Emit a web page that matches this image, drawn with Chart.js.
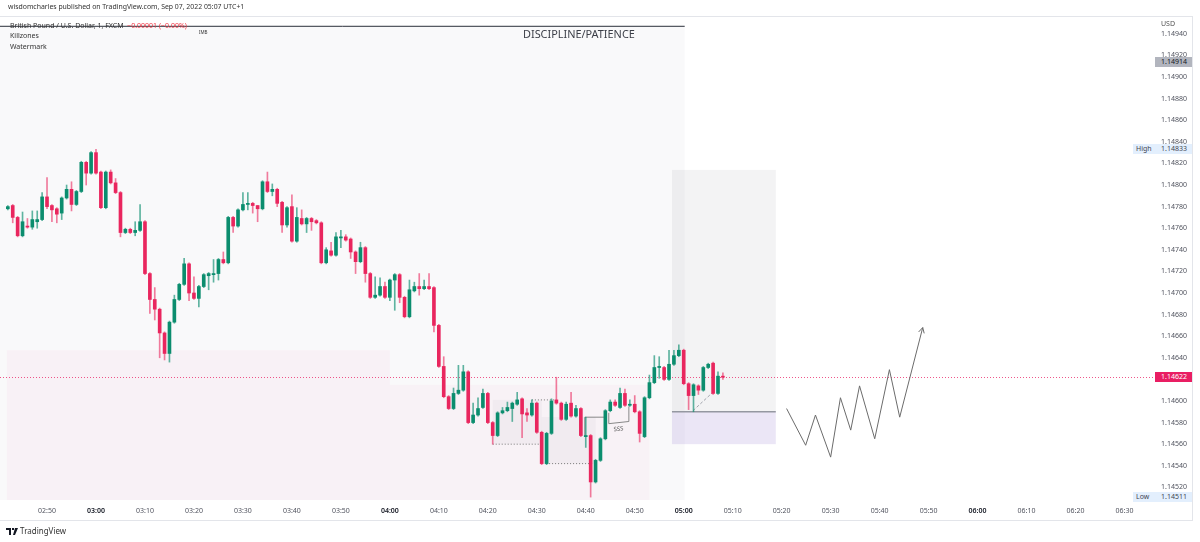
<!DOCTYPE html>
<html><head><meta charset="utf-8">
<script src="https://cdn.jsdelivr.net/npm/chart.js@4/dist/chart.umd.min.js"></script>
<style>
html,body{margin:0;padding:0;background:#fff;width:1200px;height:542px;overflow:hidden;font-family:"Noto Sans",sans-serif;color:#131722;}
#wrap{position:relative;width:1200px;height:542px;}
#c{position:absolute;left:0;top:0;}
.t{position:absolute;white-space:nowrap;line-height:1;}
#frame{position:absolute;left:-1px;top:16px;width:1194px;height:505px;border:1px solid #e3e5ea;box-sizing:border-box;pointer-events:none;}
.badge{position:absolute;height:10px;line-height:10px;font-size:7px;white-space:nowrap;}
</style></head>
<body><div id="wrap">
<canvas id="c" width="1200" height="542"></canvas>
<div id="frame"></div>
<div class="t" style="left:8px;top:4px;font-size:6.9px;color:#333;">wisdomcharles published on TradingView.com, Sep 07, 2022 05:07 UTC+1</div>
<div class="t" style="left:10px;top:22px;font-size:7px;color:#333;">British Pound / U.S. Dollar, 1, FXCM&nbsp;&nbsp;<span style="color:#f23645">−0.00001 (−0.00%)</span></div>
<div class="t" style="left:10px;top:32px;font-size:7px;color:#333;">Killzones</div>
<div class="t" style="left:10px;top:43px;font-size:7px;color:#333;">Watermark</div>
<div class="t" style="left:199px;top:30px;font-size:4.5px;color:#333;">IMB</div>
<div class="t" style="left:523px;top:29px;font-size:10.9px;color:#3b3e47;">DISCIPLINE/PATIENCE</div>
<div class="t" style="left:1161px;top:20px;font-size:7px;color:#555;">USD</div>
<div class="t" style="left:6px;top:527px;font-size:8px;color:#333;"><svg width="12" height="7" viewBox="0 0 12 7" style="vertical-align:-1px"><path d="M0 0h5v7H3V2H0z M6 0h2v2H6z M9 0h3l-3 7H7z" fill="#131722"/></svg> TradingView</div>
<div id="badges"></div>
</div>
<script>
// ---- data ----
const times = ["02:42","02:43","02:44","02:45","02:46","02:47","02:48","02:49","02:50","02:51","02:52","02:53","02:54","02:55","02:56","02:57","02:58","02:59",
"03:00","03:01","03:02","03:03","03:04","03:05","03:06","03:07","03:08","03:09","03:10","03:11","03:12","03:13","03:14","03:15","03:16","03:17","03:18","03:19",
"03:20","03:21","03:22","03:23","03:24","03:25","03:26","03:27","03:28","03:29","03:30","03:31","03:32","03:33","03:34","03:35","03:36","03:37","03:38","03:39",
"03:40","03:41","03:42","03:43","03:44","03:45","03:46","03:47","03:48","03:49","03:50","03:51","03:52","03:53","03:54","03:55","03:56","03:57","03:58","03:59",
"04:00","04:01","04:02","04:03","04:04","04:05","04:06","04:07","04:08","04:09","04:10","04:11","04:12","04:13","04:14","04:15","04:16","04:17","04:18","04:19",
"04:20","04:21","04:22","04:23","04:24","04:25","04:26","04:27","04:28","04:29","04:30","04:31","04:32","04:33","04:34","04:35","04:36","04:37","04:38","04:39",
"04:40","04:41","04:42","04:43","04:44","04:45","04:46","04:47","04:48","04:49","04:50","04:51","04:52","04:53","04:54","04:55","04:56","04:57","04:58","04:59",
"05:00","05:01","05:02","05:03","05:04","05:05","05:06","05:07","05:08"];
const open = [1.14778,1.14781,1.14770,1.14753,1.14762,1.14761,1.14766,1.14768,1.14789,1.14781,
1.14778,1.14774,1.14788,1.14796,1.14782,1.14794,1.14821,1.14811,1.14830,1.14812,
1.14779,1.14812,1.14802,1.14793,1.14756,1.14759,1.14756,1.14758,1.14766,1.14718,
1.14694,1.14685,1.14663,1.14644,1.14673,1.14694,1.14708,1.14727,1.14700,1.14695,
1.14706,1.14716,1.14717,1.14718,1.14731,1.14728,1.14770,1.14762,1.14777,1.14782,
1.14783,1.14781,1.14778,1.14803,1.14794,1.14796,1.14784,1.14763,1.14780,1.14748,
1.14769,1.14764,1.14769,1.14767,1.14765,1.14728,1.14739,1.14735,1.14751,1.14752,
1.14750,1.14738,1.14729,1.14742,1.14718,1.14696,1.14698,1.14706,1.14696,1.14712,
1.14717,1.14696,1.14678,1.14702,1.14706,1.14704,1.14706,1.14705,1.14670,1.14632,
1.14604,1.14593,1.14607,1.14610,1.14627,1.14580,1.14587,1.14594,1.14607,1.14580,
1.14568,1.14589,1.14591,1.14593,1.14597,1.14602,1.14589,1.14587,1.14598,1.14571,
1.14542,1.14570,1.14601,1.14598,1.14583,1.14598,1.14586,1.14593,1.14567,1.14568,
1.14525,1.14545,1.14565,1.14591,1.14599,1.14594,1.14607,1.14596,1.14597,1.14590,
1.14567,1.14603,1.14617,1.14631,1.14631,1.14620,1.14634,1.14642,1.14647,1.14616,
1.14605,1.14614,1.14610,1.14631,1.14635,1.14607,1.14623];
const high = [1.14781,1.14782,1.14771,1.14775,1.14769,1.14776,1.14776,1.14793,1.14807,1.14782,
1.14779,1.14789,1.14800,1.14803,1.14795,1.14822,1.14822,1.14831,1.14833,1.14813,
1.14813,1.14814,1.14806,1.14794,1.14760,1.14760,1.14766,1.14782,1.14767,1.14719,
1.14705,1.14686,1.14664,1.14674,1.14698,1.14709,1.14732,1.14728,1.14715,1.14707,
1.14718,1.14719,1.14731,1.14732,1.14738,1.14771,1.14771,1.14778,1.14793,1.14793,
1.14784,1.14781,1.14804,1.14812,1.14801,1.14797,1.14785,1.14780,1.14791,1.14779,
1.14777,1.14770,1.14770,1.14768,1.14766,1.14742,1.14747,1.14756,1.14758,1.14754,
1.14751,1.14739,1.14747,1.14743,1.14719,1.14715,1.14714,1.14710,1.14713,1.14718,
1.14718,1.14697,1.14712,1.14710,1.14718,1.14712,1.14718,1.14706,1.14671,1.14641,
1.14605,1.14612,1.14633,1.14633,1.14628,1.14598,1.14603,1.14611,1.14608,1.14581,
1.14590,1.14594,1.14599,1.14599,1.14608,1.14603,1.14593,1.14601,1.14599,1.14572,
1.14571,1.14602,1.14622,1.14599,1.14599,1.14608,1.14596,1.14594,1.14585,1.14569,
1.14546,1.14566,1.14592,1.14601,1.14601,1.14612,1.14611,1.14601,1.14605,1.14591,
1.14604,1.14624,1.14642,1.14641,1.14632,1.14647,1.14647,1.14652,1.14648,1.14617,
1.14616,1.14615,1.14632,1.14635,1.14636,1.14627,1.14626];
const low = [1.14777,1.14765,1.14752,1.14752,1.14760,1.14759,1.14760,1.14767,1.14778,1.14766,
1.14765,1.14768,1.14787,1.14776,1.14781,1.14793,1.14800,1.14810,1.14810,1.14778,
1.14778,1.14801,1.14792,1.14752,1.14755,1.14755,1.14753,1.14757,1.14717,1.14681,
1.14675,1.14640,1.14638,1.14636,1.14672,1.14693,1.14707,1.14693,1.14694,1.14687,
1.14705,1.14703,1.14710,1.14712,1.14727,1.14727,1.14756,1.14761,1.14776,1.14777,
1.14774,1.14766,1.14777,1.14793,1.14790,1.14780,1.14756,1.14761,1.14747,1.14747,
1.14763,1.14756,1.14758,1.14764,1.14727,1.14727,1.14734,1.14734,1.14742,1.14748,
1.14732,1.14718,1.14728,1.14710,1.14695,1.14695,1.14697,1.14695,1.14693,1.14684,
1.14691,1.14677,1.14677,1.14701,1.14698,1.14703,1.14703,1.14664,1.14631,1.14603,
1.14592,1.14592,1.14606,1.14609,1.14579,1.14579,1.14586,1.14593,1.14579,1.14560,
1.14567,1.14588,1.14590,1.14581,1.14596,1.14566,1.14581,1.14586,1.14570,1.14541,
1.14541,1.14569,1.14597,1.14582,1.14582,1.14585,1.14585,1.14567,1.14557,1.14511,
1.14524,1.14544,1.14564,1.14590,1.14595,1.14593,1.14595,1.14595,1.14589,1.14562,
1.14566,1.14602,1.14616,1.14621,1.14619,1.14619,1.14633,1.14641,1.14615,1.14592,
1.14590,1.14606,1.14609,1.14630,1.14606,1.14606,1.14620];
const close = [1.14780,1.14770,1.14753,1.14766,1.14761,1.14768,1.14768,1.14789,1.14780,1.14777,
1.14773,1.14788,1.14796,1.14782,1.14794,1.14821,1.14811,1.14830,1.14811,1.14779,
1.14812,1.14802,1.14793,1.14756,1.14759,1.14756,1.14758,1.14766,1.14718,1.14694,
1.14685,1.14663,1.14644,1.14673,1.14694,1.14708,1.14727,1.14700,1.14695,1.14706,
1.14717,1.14718,1.14718,1.14731,1.14728,1.14770,1.14762,1.14777,1.14782,1.14783,
1.14781,1.14778,1.14803,1.14794,1.14796,1.14783,1.14763,1.14779,1.14748,1.14770,
1.14764,1.14769,1.14766,1.14765,1.14728,1.14740,1.14735,1.14752,1.14752,1.14749,
1.14738,1.14729,1.14742,1.14718,1.14696,1.14698,1.14706,1.14696,1.14712,1.14717,
1.14696,1.14678,1.14703,1.14706,1.14704,1.14706,1.14704,1.14670,1.14632,1.14604,
1.14593,1.14607,1.14610,1.14627,1.14580,1.14587,1.14593,1.14607,1.14580,1.14568,
1.14589,1.14591,1.14594,1.14598,1.14601,1.14588,1.14587,1.14598,1.14571,1.14542,
1.14570,1.14600,1.14598,1.14583,1.14597,1.14586,1.14593,1.14568,1.14568,1.14525,
1.14545,1.14565,1.14591,1.14599,1.14596,1.14607,1.14596,1.14597,1.14590,1.14570,
1.14603,1.14617,1.14631,1.14632,1.14620,1.14634,1.14642,1.14647,1.14616,1.14605,
1.14615,1.14610,1.14631,1.14634,1.14607,1.14623,1.14622];
// projected zig-zag path (minutes of day, price)
const pathX = [321.0,324.9,326.9,330.0,332.0,334.1,335.9,339.0,342.0,344.1,348.8];
const pathY = [1.14593,1.14559,1.14587,1.14548,1.14603,1.14573,1.14614,1.14565,1.14629,1.14585,1.14668];
// axis settings
const xRange = [160.4, 391.53];
const yRange = [1.145083, 1.149556];
const priceStep = 0.0002, timeStep = 10;
const lastPrice = 1.14622, highPrice = 1.14833, lowPrice = 1.14511, markPrice = 1.14914;
// zones: [t0, t1, p0, p1, colour]  (null = axis bound)
const zones = [
  [null, 300.2, null, 1.14947, 'rgba(120,123,134,0.045)'],
  [161.8, 240, null, 1.14647, 'rgba(233,30,140,0.035)'],
  [240, 293, null, 1.14615, 'rgba(233,30,140,0.03)'],
  [261, 271, 1.14560, 1.14601, 'rgba(120,123,134,0.06)'],
  [271, 282, 1.14542, 1.14585, 'rgba(120,123,134,0.06)'],
  [297.6, 318.8, 1.14590, 1.14814, 'rgba(120,123,134,0.09)'],
  [297.6, 318.8, 1.14560, 1.14590, 'rgba(103,58,183,0.13)']
];
// line drawings: [[t,p],...], colour, dash, width
const drawings = [
  [[[null,1.14947],[300.2,1.14947]], '#2a2e39', [], 1],
  [[[261,1.14560],[271,1.14560]], '#777', [1,2], 1],
  [[[269,1.14601],[273.7,1.14601]], '#777', [1,2], 1],
  [[[271.9,1.14542],[282.3,1.14542]], '#777', [1,2], 1],
  [[[279.8,1.14567],[279.8,1.14585],[283.9,1.14585]], '#888', [], 1],
  [[[284.7,1.14589],[284.7,1.14579],[288.8,1.14581],[288.8,1.14595]], '#888', [], 1],
  [[[297.6,1.14590],[318.8,1.14590]], '#9598a1', [], 1.5],
  [[[301.9,1.14591],[306.4,1.14610]], '#a0a3ab', [3,2], 1]
];
const labels = [[286.7, 1.14574, 'SSS']];

// ---- helpers ----
const toMin = s => { const p = s.split(':').map(Number); return p[0]*60 + p[1]; };
const fmt = v => { const h = Math.floor(v/60), m = Math.round(v - h*60); return String(h).padStart(2,'0') + ':' + String(m).padStart(2,'0'); };
const xs = times.map(toMin);
const UP = '#0b8d6e', DN = '#e9265e';
const bodyCol = close.map((c,i) => c >= open[i] ? UP : DN);
const wickCol = close.map((c,i) => c >= open[i] ? 'rgba(11,141,110,0.65)' : 'rgba(233,38,94,0.6)');
const FAM = '"Noto Sans", sans-serif';

const overlay = {
  id: 'overlay',
  beforeDatasetsDraw(chart) {
    const {ctx, chartArea: a, scales: {x, y}} = chart;
    const px = t => x.getPixelForValue(t === null ? x.min : t);
    ctx.save();
    ctx.beginPath(); ctx.rect(a.left, a.top, a.right - a.left, a.bottom - a.top); ctx.clip();
    zones.forEach(z => {
      const x0 = px(z[0]), x1 = z[1] === null ? a.right : px(z[1]);
      const y0 = z[2] === null ? a.bottom : y.getPixelForValue(z[2]);
      const y1 = z[3] === null ? a.top : y.getPixelForValue(z[3]);
      ctx.fillStyle = z[4];
      ctx.fillRect(Math.min(x0,x1), Math.min(y0,y1), Math.abs(x1-x0), Math.abs(y1-y0));
    });
    drawings.forEach(d => {
      ctx.beginPath();
      d[0].forEach((pt, i) => {
        const X = px(pt[0]), Y = y.getPixelForValue(pt[1]);
        if (i === 0) ctx.moveTo(X, Y); else ctx.lineTo(X, Y);
      });
      ctx.strokeStyle = d[1]; ctx.setLineDash(d[2]); ctx.lineWidth = d[3]; ctx.stroke();
    });
    ctx.setLineDash([]);
    ctx.restore();
    ctx.save();
    const yl = Math.round(y.getPixelForValue(lastPrice)) + 0.5;
    ctx.beginPath(); ctx.moveTo(a.left, yl); ctx.lineTo(y.left + 23, yl);
    ctx.strokeStyle = 'rgba(233,30,99,0.75)'; ctx.setLineDash([1,2]); ctx.lineWidth = 1; ctx.stroke();
    ctx.restore();
    ctx.save();
    ctx.fillStyle = '#555'; ctx.font = '6px ' + FAM; ctx.textAlign = 'center'; ctx.textBaseline = 'middle';
    labels.forEach(l => {
      ctx.save(); ctx.translate(px(l[0]), y.getPixelForValue(l[1])); ctx.rotate(-0.08); ctx.fillText(l[2], 0, 0); ctx.restore();
    });
    ctx.restore();
  },
  afterDatasetsDraw(chart) {
    const {ctx, scales: {x, y}} = chart;
    const n = pathX.length;
    const X1 = x.getPixelForValue(pathX[n-1]), Y1 = y.getPixelForValue(pathY[n-1]);
    const X0 = x.getPixelForValue(pathX[n-2]), Y0 = y.getPixelForValue(pathY[n-2]);
    const ang = Math.atan2(Y1 - Y0, X1 - X0), L = 6;
    ctx.save(); ctx.strokeStyle = '#6b6b6b'; ctx.lineWidth = 1;
    ctx.beginPath();
    ctx.moveTo(X1 - L*Math.cos(ang - 0.5), Y1 - L*Math.sin(ang - 0.5));
    ctx.lineTo(X1, Y1);
    ctx.lineTo(X1 - L*Math.cos(ang + 0.5), Y1 - L*Math.sin(ang + 0.5));
    ctx.stroke(); ctx.restore();
  },
  afterDraw(chart) {
    const y = chart.scales.y;
    const host = document.getElementById('badges');
    if (host.dataset.done) return;
    host.dataset.done = '1';
    const mk = (price, title, bg, fg) => {
      const top = Math.round(y.getPixelForValue(price)) - 5;
      if (title) {
        const t = document.createElement('div');
        t.className = 'badge';
        t.style.cssText += `left:${y.left+1}px;top:${top}px;width:${y.right - y.left - 2}px;background:${bg};color:${fg};padding-left:3px;box-sizing:border-box;`;
        t.textContent = title;
        host.appendChild(t);
      }
      const v = document.createElement('div');
      v.className = 'badge';
      v.style.cssText += `left:${y.left+23}px;top:${top}px;width:${y.right - y.left - 24}px;background:${title ? 'transparent' : bg};color:${fg};padding-left:6px;box-sizing:border-box;`;
      v.textContent = price.toFixed(5);
      host.appendChild(v);
    };
    mk(markPrice, null, '#b2b5be', '#131722');
    mk(highPrice, 'High', '#e3effd', '#434651');
    mk(lastPrice, null, '#e91e63', '#ffffff');
    mk(lowPrice, 'Low', '#e3effd', '#434651');
  }
};

new Chart(document.getElementById('c'), {
  type: 'bar',
  data: {
    datasets: [
      {label: 'wick', data: xs.map((t,i) => ({x: t, y: [low[i], high[i]]})), backgroundColor: wickCol, barThickness: 1, grouped: false, order: 2},
      {label: 'body', data: xs.map((t,i) => ({x: t, y: [open[i], close[i]]})), backgroundColor: bodyCol, barThickness: 3, minBarLength: 1, grouped: false, order: 1},
      {type: 'line', label: 'path', data: pathX.map((t,i) => ({x: t, y: pathY[i]})), borderColor: '#6b6b6b', borderWidth: 1, pointRadius: 0, tension: 0, fill: false, order: 0}
    ]
  },
  options: {
    responsive: false, animation: false, maintainAspectRatio: false,
    layout: {padding: {top: 17, bottom: 21, left: 0, right: 7}},
    plugins: {legend: {display: false}, tooltip: {enabled: false}},
    scales: {
      x: {type: 'linear', min: xRange[0], max: xRange[1], offset: false,
          grid: {display: false, drawTicks: false}, border: {display: false},
          ticks: {stepSize: timeStep, includeBounds: false, autoSkip: false, maxRotation: 0, padding: 7,
                  callback: v => fmt(v),
                  font: c => ({size: 7, family: FAM, weight: (c.tick && c.tick.value % 60 === 0) ? '600' : '400'}),
                  color: c => (c.tick && c.tick.value % 60 === 0) ? '#131722' : '#50535e'},
          afterFit: s => { s.height = 21; s.paddingLeft = 0; s.paddingRight = 0; }},
      y: {type: 'linear', position: 'right', min: yRange[0], max: yRange[1],
          grid: {display: false, drawTicks: false}, border: {display: false},
          ticks: {stepSize: priceStep, includeBounds: false, padding: 29, callback: v => v.toFixed(5),
                  font: {size: 7, family: FAM}, color: '#50535e'},
          afterFit: s => { s.width = 61; s.paddingTop = 0; s.paddingBottom = 0; }}
    }
  },
  plugins: [overlay]
});
</script>
</body></html>
